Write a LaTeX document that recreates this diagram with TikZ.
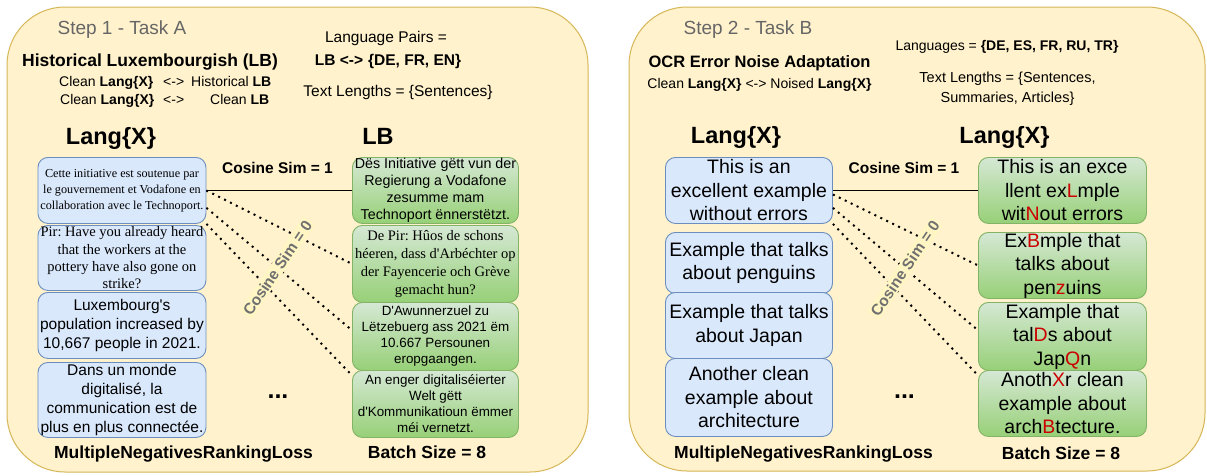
\documentclass[tikz,border=0pt]{standalone}
\usepackage{fontspec}
\setmainfont{Liberation Sans}
\newfontfamily\timesfont{Liberation Serif}
\usetikzlibrary{calc}
\frenchspacing

\definecolor{panelfill}{HTML}{FFF2CC}
\definecolor{panelline}{HTML}{D6B656}
\definecolor{bluefill}{HTML}{DAE8FC}
\definecolor{blueline}{HTML}{6C8EBF}
\definecolor{greentop}{HTML}{D5E8D4}
\definecolor{greenbot}{HTML}{97D077}
\definecolor{greenline}{HTML}{82B366}
\definecolor{errred}{HTML}{CC0000}
\definecolor{stepgray}{HTML}{666666}
\definecolor{simgray}{HTML}{707070}
\definecolor{simfill}{HTML}{FFF6C4}

\newcommand{\fsz}[2]{\fontsize{#1pt}{#2pt}\selectfont}
\newcommand{\ap}{\textquotesingle}
\newcommand{\err}[1]{\textcolor{errred}{#1}}

\tikzset{
  panel/.style={draw=panelline, fill=panelfill, line width=1pt, rounded corners=58pt},
  bluebox/.style={draw=blueline, fill=bluefill, rounded corners=10pt, line width=0.9pt,
                  inner sep=0pt, anchor=north west},
  greenbox/.style={draw=greenline, top color=greentop, bottom color=greenbot,
                   rounded corners=10pt, line width=0.9pt, inner sep=0pt, anchor=north west},
  boxtext/.style={align=center, inner sep=0pt, text=black},
  lbl/.style={inner sep=0pt, anchor=base},
  solidlink/.style={line width=1.4pt},
  dotlink/.style={line width=2pt, dash pattern=on 2pt off 4.6pt},
  simlabel/.style={rotate=56, fill=simfill, text=simgray, inner sep=1.5pt,
                   font=\bfseries\fsz{15.5}{18}},
}

\begin{document}
\begin{tikzpicture}[x=1pt, y=-1pt]
\useasboundingbox (0,0) rectangle (1207,475);
\fill[white] (0,0) rectangle (1207,475);

% ---------- the two task panels ----------
\draw[panel] (7,7) rectangle (588,472);
\draw[panel] (629,7) rectangle (1205,471);

% ================= Step 1 =================
\node[lbl, text=stepgray, font=\fsz{19}{23}] (s1) at (122,34.5) {Step 1 - Task A};
\node[lbl, font=\bfseries\fsz{17.5}{20}] (h1) at (150,66.5) {Historical Luxembourgish (LB)};
\node[lbl, anchor=base west, font=\fsz{14}{17}] (c1a) at (59,86)
  {\makebox[104pt][l]{Clean \textbf{Lang\{X\}}}\makebox[28pt][l]{<->}Historical \textbf{LB}};
\node[lbl, anchor=base west, font=\fsz{14}{17}] (c1b) at (60,104.5)
  {\makebox[103pt][l]{Clean \textbf{Lang\{X\}}}\makebox[47pt][l]{<->}Clean \textbf{LB}};
\node[lbl, font=\fsz{15.5}{18}] (lp1) at (386,42) {Language Pairs =};
\node[lbl, font=\bfseries\fsz{15.5}{18}] (lp2) at (388,65) {LB <->\hspace{5pt}\{DE, FR, EN\}};
\node[lbl, font=\fsz{15.5}{18}] (tl1) at (398,96.5) {Text Lengths = \{Sentences\}};
\node[lbl, font=\bfseries\fsz{23.5}{28}] (hx1) at (111,144) {Lang\{X\}};
\node[lbl, font=\bfseries\fsz{23.5}{28}] (hlb) at (378,144) {LB};

% left column boxes
\node[bluebox, minimum width=168pt, minimum height=66pt] (AL1) at (37.5,157) {};
\node[bluebox, minimum width=168pt, minimum height=65pt] (AL2) at (37.5,225) {};
\node[bluebox, minimum width=168pt, minimum height=66pt] (AL3) at (37.5,292) {};
\node[bluebox, minimum width=168pt, minimum height=75pt] (AL4) at (37.5,362) {};
% right column boxes
\node[greenbox, minimum width=166pt, minimum height=66pt] (AR1) at (352,157) {};
\node[greenbox, minimum width=166pt, minimum height=77pt] (AR2) at (352,225) {};
\node[greenbox, minimum width=166pt, minimum height=68pt] (AR3) at (352,302) {};
\node[greenbox, minimum width=166pt, minimum height=67pt] (AR4) at (352,370) {};

\node[boxtext, font=\timesfont\fsz{12.2}{16}] (AL1t) at (AL1.center)
  {Cette initiative est soutenue par\\le gouvernement et Vodafone en\\collaboration avec le Technoport.};
\node[boxtext, font=\timesfont\fsz{14.5}{17.3}] (AL2t) at (AL2.center)
  {Pir: Have you already heard\\that the workers at the\\pottery have also gone on\\strike?};
\node[boxtext, font=\fsz{15.5}{18.6}] (AL3t) at (AL3.center)
  {Luxembourg\ap s\\population increased by\\10,667 people in 2021.};
\node[boxtext, font=\fsz{15.5}{19}] (AL4t) at (AL4.center)
  {Dans un monde\\digitalisé, la\\communication est de\\plus en plus connectée.};
\node[boxtext, font=\fsz{14.3}{17.2}] (AR1t) at (AR1.center)
  {Dës Initiative gëtt vun der\\Regierung a Vodafone\\zesumme mam\\Technoport ënnerstëtzt.};
\node[boxtext, font=\timesfont\fsz{14.5}{18}] (AR2t) at (AR2.center)
  {De Pir: Hûos de schons\\héeren, dass d\ap Arbéchter op\\der Fayencerie och Grève\\gemacht hun?};
\node[boxtext, font=\fsz{13.4}{16}] (AR3t) at (AR3.center)
  {D\ap Awunnerzuel zu\\Lëtzebuerg ass 2021 ëm\\10.667 Persounen\\eropgaangen.};
\node[boxtext, font=\fsz{13.4}{16}] (AR4t) at (AR4.center)
  {An enger digitaliséierter\\Welt gëtt\\d\ap Kommunikatioun ëmmer\\méi vernetzt.};

% similarity links
\draw[solidlink] (AL1.east) -- (AR1.west);
\draw[dotlink] (AL1.east) -- (AR2.west);
\draw[dotlink] ($(AL1.north east)!0.76!(AL1.south east)$) -- ($(AR3.north west)!0.41!(AR3.south west)$);
\draw[dotlink] (AL1.south east) -- ($(AR4.north west)!0.08!(AR4.south west)$);
\node[lbl, font=\bfseries\fsz{15.5}{18}] (cs1a) at (277.5,173) {Cosine Sim = 1};
\node[simlabel] (cs0a) at (277.5,268) {Cosine Sim = 0};
\node[lbl, font=\bfseries\fsz{25}{30}] (dotsa) at (278,398) {...};

\node[lbl, font=\bfseries\fsz{17.5}{21}] (lossa) at (183.5,458) {MultipleNegativesRankingLoss};
\node[lbl, font=\bfseries\fsz{17.5}{21}] (batcha) at (427,458) {Batch Size = 8};

% ================= Step 2 =================
\node[lbl, text=stepgray, font=\fsz{19}{23}] (s2) at (748,34.5) {Step 2 - Task B};
\node[lbl, font=\fsz{14}{17}] (lang2) at (1007,50) {Languages = \textbf{\{DE, ES, FR, RU, TR\}}};
\node[lbl, font=\bfseries\fsz{16.5}{20}] (h2) at (759.5,67) {OCR Error Noise Adaptation};
\node[lbl, font=\fsz{14}{17}] (c2) at (759.5,88) {Clean \textbf{Lang\{X\}} <-> Noised \textbf{Lang\{X\}}};
\node[lbl, font=\fsz{14.5}{17}] (tl2a) at (1007.5,82.5) {Text Lengths = \{Sentences,};
\node[lbl, font=\fsz{14.5}{17}] (tl2b) at (1007.5,102) {Summaries, Articles\}};
\node[lbl, font=\bfseries\fsz{23.5}{28}] (hx2a) at (736,143.5) {Lang\{X\}};
\node[lbl, font=\bfseries\fsz{23.5}{28}] (hx2b) at (1004.5,143.5) {Lang\{X\}};

\node[bluebox, minimum width=167pt, minimum height=66pt] (BL1) at (665,157) {};
\node[bluebox, minimum width=167pt, minimum height=61pt] (BL2) at (665,232) {};
\node[bluebox, minimum width=167pt, minimum height=66pt] (BL3) at (665,292) {};
\node[bluebox, minimum width=167pt, minimum height=78pt] (BL4) at (665,358) {};
\node[greenbox, minimum width=168pt, minimum height=66pt] (BR1) at (978,157) {};
\node[greenbox, minimum width=168pt, minimum height=66pt] (BR2) at (978,232) {};
\node[greenbox, minimum width=168pt, minimum height=68pt] (BR3) at (978,302) {};
\node[greenbox, minimum width=168pt, minimum height=66pt] (BR4) at (978,370) {};

\node[boxtext, font=\fsz{19.5}{23.5}] (BL1t) at (BL1.center) {This is an\\excellent example\\without errors};
\node[boxtext, font=\fsz{19.5}{23.5}] (BL2t) at (BL2.center) {Example that talks\\about penguins};
\node[boxtext, font=\fsz{19.5}{23.5}] (BL3t) at (BL3.center) {Example that talks\\about Japan};
\node[boxtext, font=\fsz{19.5}{23.5}] (BL4t) at (BL4.center) {Another clean\\example about\\architecture};
\node[boxtext, font=\fsz{19.5}{23.5}] (BR1t) at (BR1.center)
  {This is an exce\\llent ex\err{L}mple\\wit\err{N}out errors};
\node[boxtext, font=\fsz{19.5}{23.5}] (BR2t) at (BR2.center)
  {Ex\err{B}mple that\\talks about\\pen\err{z}uins};
\node[boxtext, font=\fsz{19.5}{23.5}] (BR3t) at (BR3.center)
  {Example that\\tal\err{D}s about\\Jap\err{Q}n};
\node[boxtext, font=\fsz{19.5}{23.5}] (BR4t) at (BR4.center)
  {Anoth\err{X}r clean\\example about\\arch\err{B}tecture.};

\draw[solidlink] (BL1.east) -- (BR1.west);
\draw[dotlink] ($(BL1.north east)!0.56!(BL1.south east)$) -- (BR2.west);
\draw[dotlink] ($(BL1.north east)!0.76!(BL1.south east)$) -- ($(BR3.north west)!0.41!(BR3.south west)$);
\draw[dotlink] (BL1.south east) -- ($(BR4.north west)!0.08!(BR4.south west)$);
\node[lbl, font=\bfseries\fsz{15.5}{18}] (cs1b) at (904,173) {Cosine Sim = 1};
\node[simlabel] (cs0b) at (905,268.5) {Cosine Sim = 0};
\node[lbl, font=\bfseries\fsz{25}{30}] (dotsb) at (904.5,398) {...};

\node[lbl, font=\bfseries\fsz{17.5}{21}] (lossb) at (803.5,458) {MultipleNegativesRankingLoss};
\node[lbl, font=\bfseries\fsz{17.5}{21}] (batchb) at (1061,459) {Batch Size = 8};
\end{tikzpicture}
\end{document}
